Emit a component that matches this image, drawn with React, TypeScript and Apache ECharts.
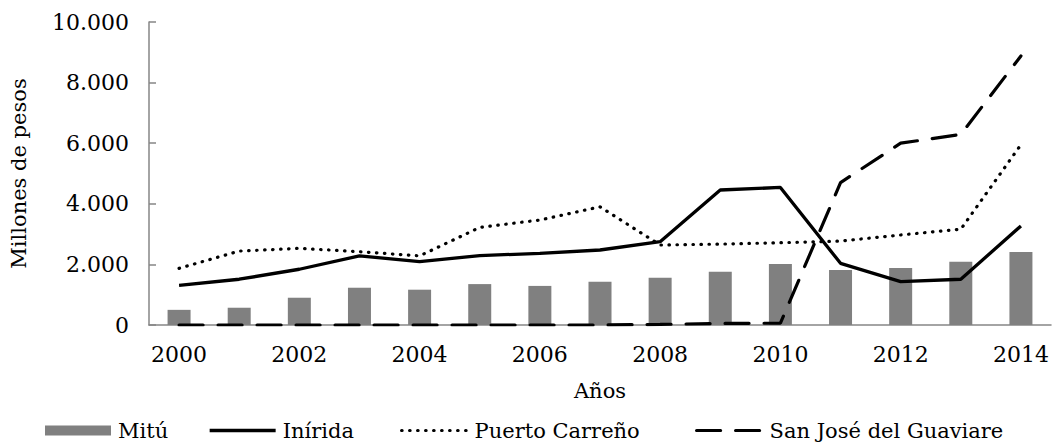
import React, { useEffect, useRef } from "react";
import * as echarts from "echarts";

const years = ["2000","2001","2002","2003","2004","2005","2006","2007","2008","2009","2010","2011","2012","2013","2014"];
const mitu = [500, 570, 900, 1230, 1165, 1350, 1290, 1430, 1560, 1760, 2010, 1815, 1880, 2090, 2410];
const inirida = [1310, 1510, 1840, 2280, 2090, 2290, 2365, 2475, 2750, 4455, 4540, 2035, 1430, 1510, 3270];
const puertoCarreno = [1870, 2440, 2530, 2420, 2280, 3220, 3465, 3900, 2640, 2670, 2715, 2770, 2970, 3160, 5950];
const sanJose = [0, 0, 0, 0, 0, 0, 0, 0, 20, 50, 60, 4700, 6000, 6290, 8880];
const seriesNames = ["Mitú", "Inírida", "Puerto Carreño", "San José del Guaviare"];

const FONT = "DejaVu Serif";

function fmt(v: number): string {
  return String(Math.round(v)).replace(/\B(?=(\d{3})+(?!\d))/g, ".");
}

const dottedStyle = { color: "#000", width: 3.2, type: [0.5, 7.5], cap: "round" };
const dashedStyle = { color: "#000", width: 3.2, type: [24, 15], cap: "round" };
const solidStyle = { color: "#000", width: 3.3 };

function legendFor(name: string, left: number, extra: any) {
  return {
    left,
    top: 420,
    padding: 0,
    itemWidth: 66,
    itemHeight: 10,
    textStyle: { fontFamily: FONT, fontSize: 21, color: "#000", padding: [0, 0, 0, 2] },
    data: [{ name, ...extra }],
  };
}

export default function App() {
  const ref = useRef<HTMLDivElement>(null);
  useEffect(() => {
    if (!ref.current) return;
    const chart = echarts.init(ref.current, null, { renderer: "svg" });
    chart.setOption({
      animation: false,
      textStyle: { fontFamily: FONT, color: "#000" },
      grid: { left: 142, right: 2, top: 22, bottom: 119, containLabel: false },
      legend: [
        legendFor(seriesNames[0], 45, { icon: "rect" }),
        legendFor(seriesNames[1], 208, { itemStyle: { opacity: 0 }, lineStyle: solidStyle }),
        legendFor(seriesNames[2], 400, { itemStyle: { opacity: 0 }, lineStyle: dottedStyle }),
        legendFor(seriesNames[3], 695, { itemStyle: { opacity: 0 }, lineStyle: dashedStyle }),
      ],
      xAxis: {
        type: "category",
        data: years,
        name: "Años",
        nameLocation: "middle",
        nameGap: 55,
        nameTextStyle: { fontFamily: FONT, fontSize: 21, color: "#000" },
        axisLine: { lineStyle: { color: "#868686", width: 1.5 } },
        axisTick: { inside: true, length: 7, interval: 0, lineStyle: { color: "#868686", width: 1.5 } },
        axisLabel: { interval: 1, margin: 18, fontFamily: FONT, fontSize: 22, color: "#000" },
      },
      yAxis: {
        type: "value",
        min: 0,
        max: 10000,
        interval: 2000,
        name: "Millones de pesos",
        nameLocation: "middle",
        nameGap: 120,
        nameTextStyle: { fontFamily: FONT, fontSize: 21, color: "#000" },
        splitLine: { show: false },
        axisLine: { show: true, lineStyle: { color: "#868686", width: 1.5 } },
        axisTick: { show: true, inside: true, length: 7, lineStyle: { color: "#868686", width: 1.5 } },
        axisLabel: { margin: 20, fontFamily: FONT, fontSize: 22, color: "#000", formatter: (v: number) => fmt(v) },
      },
      series: [
        {
          name: seriesNames[0],
          type: "bar",
          data: mitu,
          barWidth: 23,
          itemStyle: { color: "#808080" },
          z: 1,
        },
        {
          name: seriesNames[1],
          type: "line",
          data: inirida,
          symbol: "none",
          showSymbol: false,
          itemStyle: { color: "#000" },
          lineStyle: solidStyle,
          z: 3,
        },
        {
          name: seriesNames[2],
          type: "line",
          data: puertoCarreno,
          symbol: "none",
          showSymbol: false,
          itemStyle: { color: "#000" },
          lineStyle: dottedStyle,
          z: 3,
        },
        {
          name: seriesNames[3],
          type: "line",
          data: sanJose,
          symbol: "none",
          showSymbol: false,
          itemStyle: { color: "#000" },
          lineStyle: dashedStyle,
          z: 4,
        },
      ],
    });
    return () => chart.dispose();
  }, []);
  return <div ref={ref} style={{ width: 1053, height: 444, position: "absolute", left: 0, top: 0 }} />;
}
